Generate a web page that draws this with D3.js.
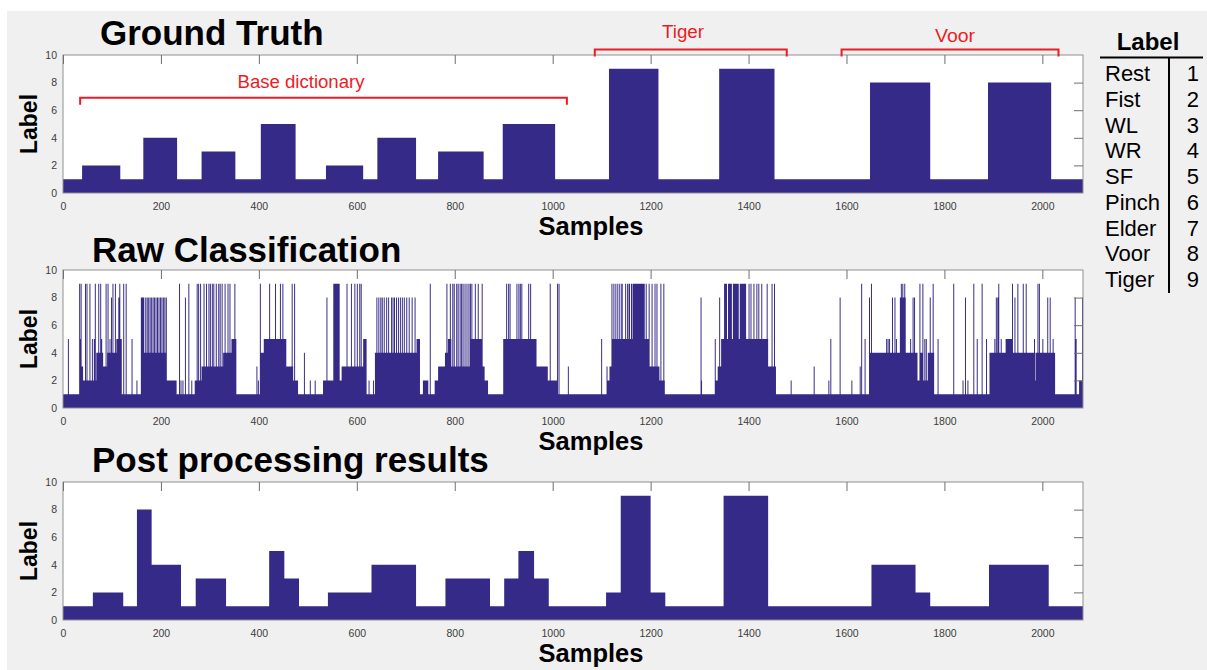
<!DOCTYPE html>
<html>
<head>
<meta charset="utf-8">
<script src="https://cdnjs.cloudflare.com/ajax/libs/d3/7.8.5/d3.min.js"></script>
<style>
  body { margin: 0; background: #fff; }
  text { font-family: "Liberation Sans", Arial, sans-serif; }
</style>
</head>
<body>
<div id="chart"></div>
<script>
//Data (sample index, label 1..9)
var nSamples = 2083;
var xTicks = [0, 200, 400, 600, 800, 1000, 1200, 1400, 1600, 1800, 2000];
var yTicks = [0, 2, 4, 6, 8, 10];

//Ground truth: segment edges and label of each segment
var gtEdges = [0, 39, 117, 164, 233, 283, 352, 404, 475, 537, 613, 642, 721, 766, 859, 898,
               1005, 1115, 1216, 1340, 1453, 1648, 1771, 1889, 2018, 2083];
var gtLabels = [1, 2, 1, 4, 1, 3, 1, 5, 1, 2, 1, 4, 1, 3, 1, 5, 1, 9, 1, 9, 1, 8, 1, 8, 1];

//Post processing results
var postEdges = [0, 61, 123, 151, 181, 241, 271, 333, 421, 452, 482, 541, 630, 721, 781, 872,
                 901, 930, 962, 992, 1109, 1139, 1200, 1230, 1349, 1440, 1651, 1741, 1771, 1891, 2013, 2083];
var postLabels = [1, 2, 1, 8, 4, 1, 3, 1, 5, 3, 1, 2, 4, 1, 3, 1, 3, 5, 3, 1, 2, 9, 2, 1, 9, 1, 4, 2, 1, 4, 1];

//Raw classification: lower envelope as [start sample, label]
var rawSteps = [
  [0, 1], [33, 5], [38, 3], [41, 2], [68, 4], [82, 3], [90, 4], [109, 5], [120, 1],
  [159, 8], [166, 4], [212, 2], [232, 1],
  [269, 2], [283, 3], [327, 4], [344, 5], [354, 1],
  [402, 4], [410, 5], [456, 3], [470, 2], [480, 1],
  [531, 2], [552, 9], [565, 2], [569, 3], [613, 5], [620, 1],
  [637, 4], [722, 5], [729, 1], [735, 2], [746, 1], [759, 2],
  [766, 3], [780, 4], [786, 5], [793, 3], [831, 5], [856, 3], [861, 2], [868, 1],
  [899, 5], [967, 3], [990, 2], [1009, 1],
  [1110, 2], [1116, 3], [1122, 5], [1140, 9], [1143, 5], [1148, 9], [1150, 5], [1155, 9], [1158, 5],
  [1163, 9], [1188, 5], [1198, 3], [1218, 2], [1229, 1],
  [1331, 2], [1337, 3], [1344, 5], [1350, 9], [1356, 5], [1358, 9], [1366, 5], [1368, 9], [1380, 5],
  [1382, 9], [1395, 5], [1440, 3], [1456, 1],
  [1646, 4], [1709, 8], [1721, 4], [1745, 2], [1749, 4], [1755, 2], [1766, 4], [1779, 1],
  [1892, 4], [1908, 8], [1912, 4], [1925, 5], [1938, 4], [1983, 2], [1986, 4], [2026, 1],
  [2066, 2], [2070, 1], [2075, 2], [2081, 8]
];

//Raw classification: single-sample spikes above the envelope, by label
var spikes9 = [33, 36, 45, 48, 54, 65, 72, 76, 87, 91, 101, 106, 115, 123, 128, 237, 256, 273, 276, 280,
  287, 292, 297, 300, 304, 307, 312, 317, 320, 324, 330, 336, 340, 350, 402, 421, 433, 443, 448, 467,
  472, 579, 588, 595, 600, 605, 608, 749, 783, 790, 795, 798, 803, 806, 810, 813, 816, 820, 824, 828,
  831, 834, 841, 847, 855, 905, 909, 912, 926, 930, 933, 936, 950, 954, 994, 1009, 1012, 1120, 1124,
  1128, 1132, 1136, 1152, 1160, 1190, 1196, 1202, 1208, 1212, 1220, 1226, 1400, 1404, 1410, 1416,
  1420, 1426, 1437, 1447, 1452, 1630, 1650, 1711, 1714, 1718, 1749, 1755, 1776, 1818, 1859, 1876,
  1910, 1938, 1949, 1960, 1966, 1990, 1993];
var spikes8 = [98, 113, 161, 164, 168, 171, 174, 177, 180, 183, 186, 189, 192, 195, 198, 201, 204, 207,
  210, 249, 538, 640, 644, 648, 651, 655, 660, 664, 670, 673, 676, 680, 684, 688, 692, 696, 701, 706,
  712, 718, 1302, 1340, 1586, 1646, 1693, 1698, 1735, 1738, 1770, 1842, 1905, 1943, 2010, 2015, 2066];
var spikes5 = [10, 59, 63, 78, 95, 140, 1099, 1331, 1344, 1567, 1637, 1681, 1684, 1687, 1701, 1730,
  1759, 1762, 1786, 1866, 1885, 1902, 1915, 1983, 2000, 2021, 2068];
var spikes4 = [492];
var spikes3 = [395, 1031, 1110, 1533, 1627];
var spikes2 = [150, 240, 244, 262, 398, 504, 514, 624, 633, 1303, 1486, 1563, 1610, 1837, 1847];

//Legend table
var gestureNames = ["Rest", "Fist", "WL", "WR", "SF", "Pinch", "Elder", "Voor", "Tiger"];
var gestureIds = [1, 2, 3, 4, 5, 6, 7, 8, 9];

//Red brackets: [from sample, to sample, label level, text]
var brackets = [
  [35, 1029, 6.9, "Base dictionary"],
  [1086, 1478, 10.4, "Tiger"],
  [1590, 2033, 10.4, "Voor"]
];

//Width and height
var w = 1207;
var h = 670;
var barColor = "#352a87";
var red = "#ec1c24";

var svg = d3.select("#chart")
            .append("svg")
            .attr("width", w)
            .attr("height", h);

svg.append("rect")
   .attr("x", 7).attr("y", 11)
   .attr("width", w - 7).attr("height", h - 11)
   .attr("fill", "#f0f0f0");

var x = d3.scaleLinear().domain([0, nSamples]).range([63, 1083]);
var plotH = 138;

var panels = [
  { title: "Ground Truth", top: 55, titleX: 100, titleY: 45 },
  { title: "Raw Classification", top: 270, titleX: 92, titleY: 262 },
  { title: "Post processing results", top: 482, titleX: 92, titleY: 472 }
];

//per-sample raw labels built from the envelope and spikes
var rawValues = [];
var k = 0;
for (var i = 0; i < nSamples; i++) {
  while (k + 1 < rawSteps.length && rawSteps[k + 1][0] <= i) k++;
  rawValues.push(rawSteps[k][1]);
}
[[spikes9, 9], [spikes8, 8], [spikes5, 5], [spikes4, 4], [spikes3, 3], [spikes2, 2]].forEach(function(s) {
  s[0].forEach(function(p) {
    for (var j = p; j < p + 2 && j < nSamples; j++) {
      rawValues[j] = Math.max(rawValues[j], s[1]);
    }
  });
});
var rawPoints = rawValues.map(function(v, i) { return [i, v]; });
rawPoints.push([nSamples, rawValues[nSamples - 1]]);

function segPoints(edges, labels) {
  return edges.map(function(e, i) { return [e, labels[Math.min(i, labels.length - 1)]]; });
}

panels.forEach(function(p, pi) {
  var y = d3.scaleLinear().domain([0, 10]).range([p.top + plotH, p.top]);
  var g = svg.append("g");

  g.append("rect")
   .attr("x", x(0)).attr("y", p.top)
   .attr("width", x(nSamples) - x(0)).attr("height", plotH)
   .attr("fill", "#fff");

  var pts = pi === 1 ? rawPoints : (pi === 0 ? segPoints(gtEdges, gtLabels) : segPoints(postEdges, postLabels));
  var area = d3.area()
               .x(function(d) { return x(d[0]); })
               .y0(y(0))
               .y1(function(d) { return y(d[1]); })
               .curve(d3.curveStepAfter);
  g.append("path")
   .attr("d", area(pts))
   .attr("fill", barColor);

  //box
  g.append("rect")
   .attr("x", x(0)).attr("y", p.top)
   .attr("width", x(nSamples) - x(0)).attr("height", plotH)
   .attr("fill", "none")
   .attr("stroke", "#8f8f8f")
   .attr("stroke-width", 1);

  //inner ticks on top and right
  var topAxis = g.append("g")
                 .attr("transform", "translate(0," + p.top + ")")
                 .call(d3.axisTop(x).tickValues(xTicks).tickSize(-9).tickFormat(""));
  var rightAxis = g.append("g")
                   .attr("transform", "translate(" + x(nSamples) + ",0)")
                   .call(d3.axisRight(y).tickValues(yTicks.slice(1, 5)).tickSize(-9).tickFormat(""));
  [topAxis, rightAxis].forEach(function(a) {
    a.select(".domain").remove();
    a.selectAll("line").attr("stroke", "#6f6f6f");
  });

  //tick labels
  var bottomAxis = g.append("g")
                    .attr("transform", "translate(0," + (p.top + plotH) + ")")
                    .call(d3.axisBottom(x).tickValues(xTicks).tickSize(0).tickPadding(10).tickFormat(d3.format("d")));
  var leftAxis = g.append("g")
                  .attr("transform", "translate(" + x(0) + ",0)")
                  .call(d3.axisLeft(y).tickValues(yTicks).tickSize(0).tickPadding(6).tickFormat(d3.format("d")));
  [bottomAxis, leftAxis].forEach(function(a) {
    a.select(".domain").remove();
    a.selectAll("text")
     .attr("font-family", "Liberation Sans, Arial, sans-serif")
     .attr("font-size", "10.5px")
     .attr("fill", "#3c3c3c");
  });

  //titles
  g.append("text")
   .attr("x", p.titleX).attr("y", p.titleY)
   .attr("font-size", "35px").attr("font-weight", "bold")
   .text(p.title);

  g.append("text")
   .attr("x", 591).attr("y", p.top + plotH + 42)
   .attr("text-anchor", "middle")
   .attr("font-size", "25.5px").attr("font-weight", "bold")
   .text("Samples");

  g.append("text")
   .attr("transform", "translate(37," + (p.top + plotH / 2) + ") rotate(-90)")
   .attr("text-anchor", "middle")
   .attr("font-size", "23px").attr("font-weight", "bold")
   .text("Label");

  //red brackets on the first panel
  if (pi === 0) {
    brackets.forEach(function(b) {
      var yy = y(b[2]);
      g.append("path")
       .attr("d", "M" + x(b[0]) + "," + (yy + 7) + "V" + yy + "H" + x(b[1]) + "V" + (yy + 7))
       .attr("fill", "none")
       .attr("stroke", red)
       .attr("stroke-width", 2);
    });
    var bText = [[301, 88, 127], [683, 38, 42], [955, 42, 40]];
    brackets.forEach(function(b, i) {
      g.append("text")
       .attr("x", bText[i][0]).attr("y", bText[i][1])
       .attr("text-anchor", "middle")
       .attr("textLength", bText[i][2])
       .attr("lengthAdjust", "spacingAndGlyphs")
       .attr("font-family", "DejaVu Sans Condensed, Liberation Sans Narrow, sans-serif")
       .attr("font-size", "18px")
       .attr("fill", red)
       .text(b[3]);
    });
  }
});

//Legend table
var leg = svg.append("g");
leg.append("text")
   .attr("x", 1148).attr("y", 50)
   .attr("text-anchor", "middle")
   .attr("font-size", "24px").attr("font-weight", "bold")
   .text("Label");
leg.append("line")
   .attr("x1", 1100).attr("x2", 1203).attr("y1", 57.5).attr("y2", 57.5)
   .attr("stroke", "#000").attr("stroke-width", 2);
leg.append("line")
   .attr("x1", 1169).attr("x2", 1169).attr("y1", 57).attr("y2", 293)
   .attr("stroke", "#000").attr("stroke-width", 2);

var rowY = d3.scaleLinear().domain([0, 8]).range([81, 287]);
leg.selectAll("text.name")
   .data(gestureNames)
   .enter()
   .append("text")
   .attr("class", "name")
   .attr("x", 1105)
   .attr("y", function(d, i) { return rowY(i); })
   .attr("font-size", "22px")
   .text(function(d) { return d; });
leg.selectAll("text.id")
   .data(gestureIds)
   .enter()
   .append("text")
   .attr("class", "id")
   .attr("x", 1199)
   .attr("y", function(d, i) { return rowY(i); })
   .attr("text-anchor", "end")
   .attr("font-size", "22px")
   .text(function(d) { return d; });
</script>
</body>
</html>
